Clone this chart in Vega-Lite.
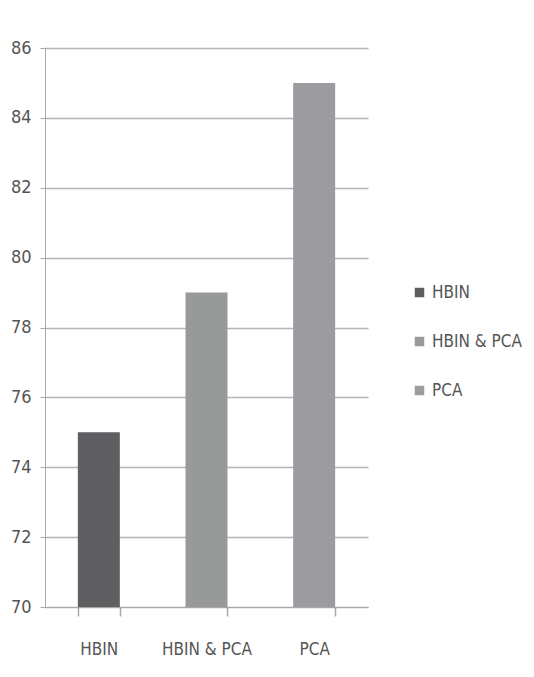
{
  "$schema": "https://vega.github.io/schema/vega-lite/v6.json",
  "width": 323,
  "height": 559,
  "autosize": {"type": "none"},
  "padding": {"left": 45, "top": 48, "right": 166, "bottom": 70},
  "background": "white",
  "config": {
    "view": {"stroke": null},
    "font": "DejaVu Sans Condensed, Liberation Sans"
  },
  "data": {
    "values": [
      {"method": "HBIN", "value": 75},
      {"method": "HBIN & PCA", "value": 79},
      {"method": "PCA", "value": 85}
    ]
  },
  "mark": {"type": "bar", "clip": true},
  "encoding": {
    "x": {
      "field": "method",
      "type": "nominal",
      "sort": null,
      "scale": {"paddingInner": 0.61, "paddingOuter": 0.305},
      "axis": {
        "title": null,
        "labelAngle": 0,
        "tickBand": "extent",
        "domainColor": "#a8a8a8",
        "tickColor": "#a8a8a8",
        "tickSize": 9,
        "tickWidth": 1.5,
        "labelFontSize": 17,
        "labelColor": "#555555",
        "labelPadding": 25,
        "labelFont": "DejaVu Sans Condensed, Liberation Sans"
      }
    },
    "y": {
      "field": "value",
      "type": "quantitative",
      "scale": {"domain": [70, 86], "zero": false},
      "axis": {
        "title": null,
        "values": [70, 72, 74, 76, 78, 80, 82, 84, 86],
        "domainColor": "#a8a8a8",
        "tickColor": "#a8a8a8",
        "gridColor": "#b4b4b4",
        "gridWidth": 1.5,
        "tickSize": 5,
        "labelFontSize": 18,
        "labelColor": "#555555",
        "labelPadding": 9,
        "labelFont": "DejaVu Sans Condensed, Liberation Sans"
      }
    },
    "color": {
      "field": "method",
      "type": "nominal",
      "sort": null,
      "scale": {
        "domain": ["HBIN", "HBIN & PCA", "PCA"],
        "range": ["#5f5f62", "#989a9a", "#9c9ba0"]
      },
      "legend": {
        "title": null,
        "orient": "none",
        "legendX": 366,
        "legendY": 236,
        "symbolType": "square",
        "symbolSize": 90,
        "symbolStrokeWidth": 0,
        "symbolOpacity": 1,
        "labelFontSize": 17,
        "labelColor": "#555555",
        "labelFont": "DejaVu Sans Condensed, Liberation Sans",
        "rowPadding": 31,
        "labelOffset": 4
      }
    }
  }
}
